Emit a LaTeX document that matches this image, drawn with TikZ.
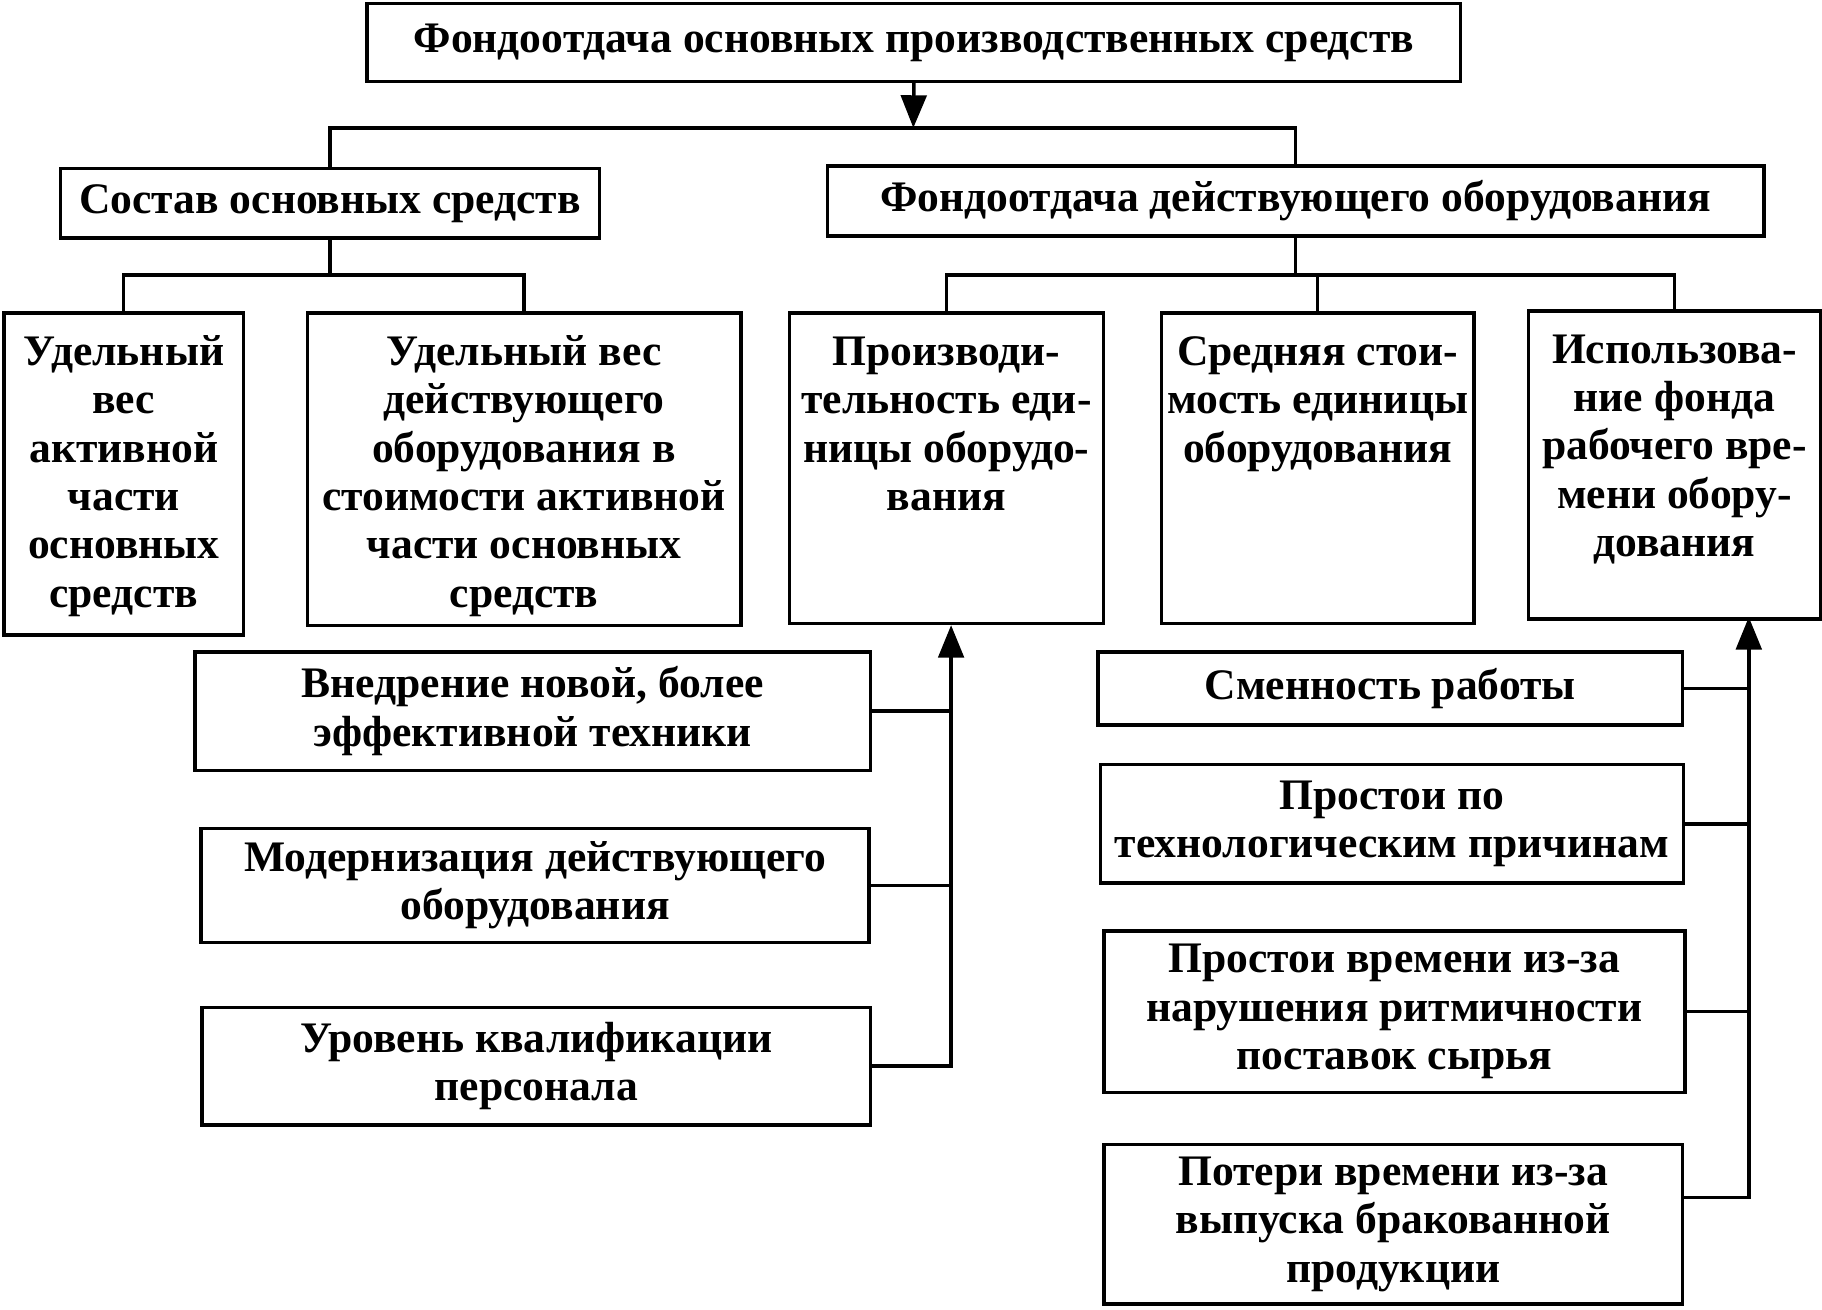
\documentclass[tikz,border=0pt]{standalone}
\usepackage{fontspec}
\setmainfont{Liberation Serif}
\usetikzlibrary{arrows.meta,calc}

\tikzset{every picture/.style={line width=3pt}}
\tikzset{
  blk/.style={draw, inner sep=0pt, align=center, font=\fontsize{37.5}{41.6}\selectfont\bfseries},
  tallblk/.style={draw, inner sep=0pt, anchor=north west, font=\fontsize{37.5}{41.6}\selectfont\bfseries},
  feed/.style={-{Triangle[length=28pt,width=22pt]}}
}
% text at the top of a tall box
\newcommand{\toptext}[3]{\parbox[c][#2pt][t]{#1pt}{\centering\vspace*{16pt}\strut#3}}

\begin{document}
\begin{tikzpicture}[x=1pt,y=1pt,yscale=-1,xscale=1]
\fill[white] (0,0) rectangle (1568,1127);
\useasboundingbox (0,0) rectangle (1568,1127);

% Top level
\node[blk, minimum width=941pt, minimum height=67pt] (top) at (786.5,36.5) {Фондоотдача основных производственных средств};
% Second level
\node[blk, minimum width=464pt, minimum height=60pt] (sostav) at (284,175) {Состав основных средств};
\node[blk, minimum width=806pt, minimum height=60pt] (fondo) at (1115,173) {Фондоотдача действующего оборудования};

% Third level
\node[tallblk] (ud1) at (2,268) {\toptext{206}{277}{Удельный\\вес\\активной\\части\\основных\\средств}};
\node[tallblk] (ud2) at (263,268) {\toptext{373}{269}{Удельный вес\\действующего\\оборудования в\\стоимости активной\\части основных\\средств}};
\node[tallblk] (proizv) at (678,268) {\toptext{270}{267}{Производи-\\тельность еди-\\ницы оборудо-\\вания}};
\node[tallblk] (sred) at (998,268) {\toptext{269}{267}{Средняя стои-\\мость единицы\\оборудования}};
\node[tallblk] (ispol) at (1314,266) {\toptext{251}{265}{Использова-\\ние фонда\\рабочего вре-\\мени обору-\\дования}};

% Factors, left
\node[blk, minimum width=581pt, minimum height=102pt] (vnedr) at (458.5,612) {Внедрение новой, более\\эффективной техники};
\node[blk, minimum width=575pt, minimum height=98pt] (modern) at (460.5,762) {Модернизация действующего\\оборудования};
\node[blk, minimum width=575pt, minimum height=101pt] (uroven) at (461.5,917.5) {Уровень квалификации\\персонала};

% Factors, right
\node[blk, minimum width=503pt, minimum height=63pt] (smen) at (1196.5,592.5) {Сменность работы};
\node[blk, minimum width=502pt, minimum height=102pt] (prost1) at (1198,709) {Простои по\\технологическим причинам};
\node[blk, minimum width=500pt, minimum height=139pt] (prost2) at (1200,870.5) {Простои времени из-за\\нарушения ритмичности\\поставок сырья};
\node[blk, minimum width=498pt, minimum height=137pt] (poteri) at (1199,1053.5) {Потери времени из-за\\выпуска бракованной\\продукции};

% Connectors
\coordinate (split) at (786,110);
\draw[feed] (top.south) -- (split);
\draw (sostav.north) |- (split) -| (fondo.north);

\coordinate (bus1) at ($(sostav.south)+(0,30)$);
\draw (sostav.south) -- (bus1);
\draw (ud1.north) |- (bus1) -| (ud2.north);

\coordinate (bus2) at ($(fondo.south)+(0,32)$);
\draw (fondo.south) -- (bus2);
\draw (proizv.north) |- (bus2) -| (ispol.north);
\draw (sred.north) -- (sred.north |- bus2);

\coordinate (lin) at ($(proizv.south)+(4,0)$);
\draw[feed] (uroven.east) -| (lin);
\draw (vnedr.east) -- (vnedr.east -| lin);
\draw (modern.east) -- (modern.east -| lin);

\coordinate (rin) at (1505,531);
\coordinate (pout) at ($(poteri.east)+(0,-23)$);
\draw[feed] (pout) -| (rin);
\draw (smen.east) -- (smen.east -| rin);
\draw (prost1.east) -- (prost1.east -| rin);
\draw (prost2.east) -- (prost2.east -| rin);

\end{tikzpicture}
\end{document}
